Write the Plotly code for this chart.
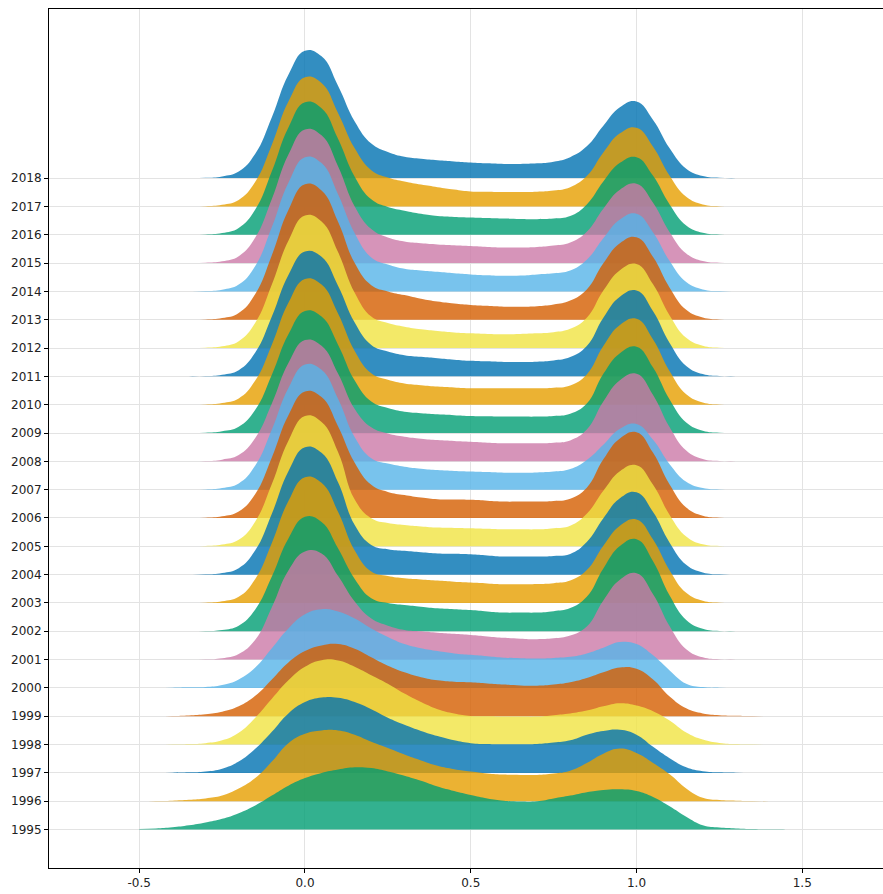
import plotly.graph_objects as go

x_grid = [round(-0.5 + 0.05 * i, 2) for i in range(41)]

Z4 = [0, 0, 0, 0]
Z5 = [0, 0, 0, 0, 0]

# ridge heights (in row units) per year
d_2018 = Z4 + [0.01, 0.06, 0.23, 0.86, 2.15, 3.65, 4.50, 4.30, 3.25, 2.00,
               1.22, 0.92, 0.75, 0.68, 0.63, 0.59, 0.55, 0.52, 0.50, 0.50,
               0.52, 0.58, 0.74, 1.12, 1.85, 2.50, 2.70, 2.05, 1.05, 0.33,
               0.07, 0.01] + Z5
d_2017 = Z4 + [0.01, 0.06, 0.23, 0.87, 2.18, 3.70, 4.56, 4.36, 3.29, 2.05,
               1.28, 1.02, 0.88, 0.77, 0.68, 0.60, 0.53, 0.52, 0.51, 0.51,
               0.52, 0.56, 0.68, 1.07, 1.90, 2.58, 2.78, 2.11, 1.08, 0.34,
               0.07, 0.01] + Z5
d_2016 = Z4 + [0.01, 0.06, 0.24, 0.89, 2.24, 3.79, 4.68, 4.47, 3.38, 2.05,
               1.25, 0.98, 0.85, 0.74, 0.66, 0.63, 0.61, 0.59, 0.57, 0.56,
               0.55, 0.57, 0.66, 1.07, 1.88, 2.54, 2.74, 2.08, 1.07, 0.33,
               0.07, 0.01] + Z5
d_2015 = Z4 + [0.01, 0.06, 0.24, 0.90, 2.26, 3.83, 4.72, 4.51, 3.41, 2.00,
               1.20, 0.90, 0.76, 0.70, 0.66, 0.63, 0.60, 0.57, 0.55, 0.55,
               0.57, 0.62, 0.73, 1.11, 1.92, 2.59, 2.80, 2.13, 1.09, 0.34,
               0.07, 0.01] + Z5
d_2014 = Z4 + [0.01, 0.06, 0.24, 0.90, 2.27, 3.84, 4.74, 4.53, 3.42, 2.05,
               1.20, 0.95, 0.80, 0.74, 0.69, 0.64, 0.60, 0.57, 0.55, 0.56,
               0.60, 0.64, 0.74, 1.12, 1.88, 2.54, 2.74, 2.08, 1.07, 0.33,
               0.07, 0.01] + Z5
d_2013 = Z4 + [0.01, 0.06, 0.24, 0.91, 2.28, 3.87, 4.78, 4.56, 3.45, 2.00,
               1.22, 1.00, 0.87, 0.74, 0.64, 0.57, 0.52, 0.49, 0.46, 0.46,
               0.48, 0.54, 0.68, 1.07, 1.99, 2.70, 2.91, 2.21, 1.13, 0.35,
               0.08, 0.01] + Z5
d_2012 = Z4 + [0.01, 0.06, 0.24, 0.89, 2.24, 3.79, 4.68, 4.47, 3.38, 1.95,
               1.11, 0.88, 0.75, 0.66, 0.60, 0.55, 0.52, 0.50, 0.49, 0.50,
               0.52, 0.56, 0.68, 1.07, 2.03, 2.75, 2.97, 2.25, 1.15, 0.36,
               0.08, 0.01] + Z5
d_2011 = Z4 + [0.01, 0.06, 0.22, 0.84, 2.11, 3.58, 4.41, 4.22, 3.19, 1.90,
               1.11, 0.88, 0.75, 0.69, 0.64, 0.59, 0.55, 0.53, 0.51, 0.51,
               0.52, 0.56, 0.68, 1.07, 2.07, 2.81, 3.03, 2.30, 1.18, 0.37,
               0.08, 0.01] + Z5
d_2010 = Z4 + [0.01, 0.06, 0.22, 0.85, 2.12, 3.60, 4.44, 4.24, 3.21, 1.90,
               1.11, 0.88, 0.75, 0.69, 0.64, 0.61, 0.58, 0.58, 0.58, 0.58,
               0.58, 0.60, 0.68, 1.07, 2.07, 2.81, 3.03, 2.30, 1.18, 0.37,
               0.08, 0.01] + Z5
d_2009 = Z4 + [0.01, 0.06, 0.22, 0.82, 2.06, 3.49, 4.31, 4.11, 3.11, 1.85,
               1.11, 0.88, 0.75, 0.70, 0.66, 0.63, 0.60, 0.59, 0.58, 0.58,
               0.58, 0.60, 0.68, 1.04, 2.09, 2.82, 3.05, 2.31, 1.18, 0.37,
               0.08, 0.01] + Z5
d_2008 = Z4 + [0.01, 0.06, 0.22, 0.82, 2.04, 3.47, 4.28, 4.08, 3.09, 1.85,
               1.20, 0.98, 0.87, 0.80, 0.75, 0.72, 0.69, 0.66, 0.64, 0.64,
               0.64, 0.66, 0.74, 1.12, 2.11, 2.86, 3.09, 2.34, 1.20, 0.38,
               0.08, 0.01] + Z5
d_2007 = Z4 + [0.01, 0.06, 0.22, 0.85, 2.12, 3.59, 4.42, 4.23, 3.20, 1.85,
               1.11, 0.92, 0.81, 0.74, 0.69, 0.66, 0.64, 0.62, 0.60, 0.60,
               0.61, 0.64, 0.73, 1.05, 1.59, 2.15, 2.32, 1.76, 0.90, 0.28,
               0.06, 0.01] + Z5
d_2006 = Z4 + [0.01, 0.06, 0.23, 0.85, 2.14, 3.63, 4.47, 4.27, 3.23, 1.95,
               1.17, 0.92, 0.81, 0.72, 0.66, 0.65, 0.64, 0.61, 0.58, 0.58,
               0.58, 0.60, 0.68, 1.07, 2.07, 2.81, 3.03, 2.30, 1.18, 0.37,
               0.08, 0.01] + Z5
d_2005 = Z4 + [0.01, 0.06, 0.23, 0.88, 2.20, 3.73, 4.60, 4.39, 3.32, 1.65,
               0.99, 0.82, 0.75, 0.70, 0.66, 0.65, 0.64, 0.62, 0.60, 0.60,
               0.60, 0.64, 0.73, 1.15, 1.96, 2.65, 2.86, 2.17, 1.11, 0.35,
               0.07, 0.01] + Z5
d_2004 = Z4 + [0.01, 0.06, 0.23, 0.86, 2.15, 3.65, 4.50, 4.30, 3.25, 1.75,
               1.05, 0.90, 0.84, 0.79, 0.75, 0.74, 0.72, 0.68, 0.64, 0.64,
               0.64, 0.66, 0.73, 1.15, 1.99, 2.70, 2.91, 2.21, 1.13, 0.35,
               0.08, 0.01] + Z5
d_2003 = Z4 + [0.01, 0.06, 0.22, 0.85, 2.12, 3.60, 4.44, 4.24, 3.21, 1.85,
               1.11, 0.95, 0.87, 0.83, 0.79, 0.75, 0.72, 0.69, 0.66, 0.66,
               0.67, 0.70, 0.79, 1.16, 2.02, 2.73, 2.95, 2.24, 1.15, 0.36,
               0.08, 0.01] + Z5
d_2002 = Z4 + [0.01, 0.05, 0.20, 0.77, 1.93, 3.28, 4.04, 3.86, 2.92, 1.85,
               1.17, 1.00, 0.93, 0.87, 0.81, 0.78, 0.75, 0.70, 0.66, 0.66,
               0.66, 0.71, 0.82, 1.22, 2.22, 3.01, 3.25, 2.47, 1.26, 0.40,
               0.09, 0.01] + Z5
d_2001 = Z4 + [0.01, 0.05, 0.20, 0.70, 1.85, 3.15, 3.82, 3.75, 2.95, 2.05,
               1.45, 1.20, 1.05, 1.00, 0.95, 0.91, 0.87, 0.82, 0.77, 0.74,
               0.72, 0.75, 0.85, 1.17, 2.09, 2.82, 3.05, 2.31, 1.18, 0.37,
               0.08, 0.01] + Z5
d_2000 = [0, 0, 0.01, 0.02, 0.03, 0.10, 0.30, 0.72, 1.40, 2.10, 2.60, 2.78, 2.70, 2.45,
          2.10, 1.80, 1.55, 1.40, 1.30, 1.22, 1.17, 1.12, 1.07, 1.05, 1.04, 1.06,
          1.10, 1.22, 1.42, 1.62, 1.55, 1.15, 0.62, 0.15, 0.03, 0.01, 0, 0, 0, 0, 0]
d_1999 = [0, 0, 0.01, 0.03, 0.07, 0.16, 0.35, 0.72, 1.30, 1.90, 2.30, 2.50, 2.55, 2.38,
          2.08, 1.78, 1.55, 1.38, 1.27, 1.22, 1.20, 1.16, 1.12, 1.09, 1.08, 1.12,
          1.20, 1.35, 1.55, 1.72, 1.68, 1.30, 0.70, 0.28, 0.10, 0.04, 0.02, 0.01, 0, 0, 0]
d_1998 = [0, 0, 0.01, 0.02, 0.05, 0.15, 0.42, 0.95, 1.62, 2.27, 2.75, 2.98, 2.97, 2.75,
          2.45, 2.15, 1.80, 1.50, 1.25, 1.10, 1.01, 1.00, 0.99, 0.99, 0.99, 1.04,
          1.10, 1.20, 1.35, 1.46, 1.38, 1.18, 0.85, 0.43, 0.18, 0.06, 0.02, 0.01, 0, 0, 0]
d_1997 = [0, 0, 0.01, 0.02, 0.05, 0.15, 0.40, 0.85, 1.45, 2.10, 2.50, 2.66, 2.65, 2.50,
          2.25, 1.95, 1.70, 1.48, 1.30, 1.15, 1.05, 1.02, 1.01, 1.01, 1.02, 1.07,
          1.15, 1.35, 1.48, 1.52, 1.35, 0.92, 0.52, 0.20, 0.06, 0.02, 0.01, 0, 0, 0, 0]
d_1996 = [0, 0.01, 0.02, 0.05, 0.10, 0.20, 0.45, 0.82, 1.40, 2.05, 2.38, 2.50, 2.50, 2.35,
          2.10, 1.88, 1.65, 1.44, 1.25, 1.13, 1.05, 0.98, 0.94, 0.93, 0.93, 0.98,
          1.08, 1.35, 1.68, 1.86, 1.70, 1.35, 0.95, 0.45, 0.12, 0.04, 0.02, 0.01, 0, 0, 0]
d_1995 = [0.02, 0.04, 0.08, 0.15, 0.25, 0.38, 0.58, 0.85, 1.20, 1.55, 1.82, 2.00, 2.12, 2.20,
          2.17, 2.05, 1.90, 1.72, 1.52, 1.36, 1.22, 1.10, 1.02, 0.99, 1.00, 1.10,
          1.20, 1.32, 1.40, 1.42, 1.36, 1.15, 0.82, 0.45, 0.15, 0.07, 0.04, 0.02, 0.01, 0.005, 0]

years = [2018, 2017, 2016, 2015, 2014, 2013, 2012, 2011, 2010, 2009, 2008, 2007,
         2006, 2005, 2004, 2003, 2002, 2001, 2000, 1999, 1998, 1997, 1996, 1995]
densities = [d_2018, d_2017, d_2016, d_2015, d_2014, d_2013, d_2012, d_2011, d_2010,
             d_2009, d_2008, d_2007, d_2006, d_2005, d_2004, d_2003, d_2002, d_2001,
             d_2000, d_1999, d_1998, d_1997, d_1996, d_1995]

palette = ["rgba(0,114,178,0.8)", "rgba(230,159,0,0.8)", "rgba(0,158,115,0.8)",
           "rgba(204,121,167,0.8)", "rgba(86,180,233,0.8)", "rgba(213,94,0,0.8)",
           "rgba(240,228,66,0.8)"]

x_ticks = [-0.5, 0.0, 0.5, 1.0, 1.5]
x_tick_text = ["-0.5", "0.0", "0.5", "1.0", "1.5"]

fig = go.Figure()
for i, (yr, dens) in enumerate(zip(years, densities)):
    color = palette[i % len(palette)]
    nz = [k for k, v in enumerate(dens) if v > 0]
    a, b = max(0, nz[0] - 1), min(len(dens) - 1, nz[-1] + 1)
    xs = x_grid[a:b + 1]
    hs = dens[a:b + 1]
    fig.add_trace(go.Scatter(
        x=xs, y=[yr] * len(xs), mode="lines",
        line=dict(width=0, color=color), showlegend=False, hoverinfo="skip"))
    fig.add_trace(go.Scatter(
        x=xs, y=[yr + h for h in hs], mode="lines",
        line=dict(width=0, color=color, shape="spline", smoothing=1.3),
        fill="tonexty", fillcolor=color, showlegend=False, hoverinfo="skip"))

fig.update_layout(
    width=883, height=894,
    margin=dict(l=49, r=0, t=9, b=26),
    paper_bgcolor="white", plot_bgcolor="white",
    font=dict(family="DejaVu Sans", size=12, color="#222222"),
    showlegend=False,
)
fig.update_xaxes(
    range=[-0.7722, 1.7436], tickvals=x_ticks, ticktext=x_tick_text,
    showgrid=True, gridcolor="#e3e3e3", gridwidth=1, zeroline=False,
    showline=True, linecolor="black", linewidth=1, mirror=True,
    ticks="outside", ticklen=4, tickcolor="black",
)
fig.update_yaxes(
    range=[1993.643, 2023.97], tickvals=years, ticktext=[str(y) for y in years],
    showgrid=True, gridcolor="#e3e3e3", gridwidth=1, zeroline=False,
    showline=True, linecolor="black", linewidth=1, mirror=True,
    ticks="outside", ticklen=4, tickcolor="black",
)

fig.write_html("out.html")
